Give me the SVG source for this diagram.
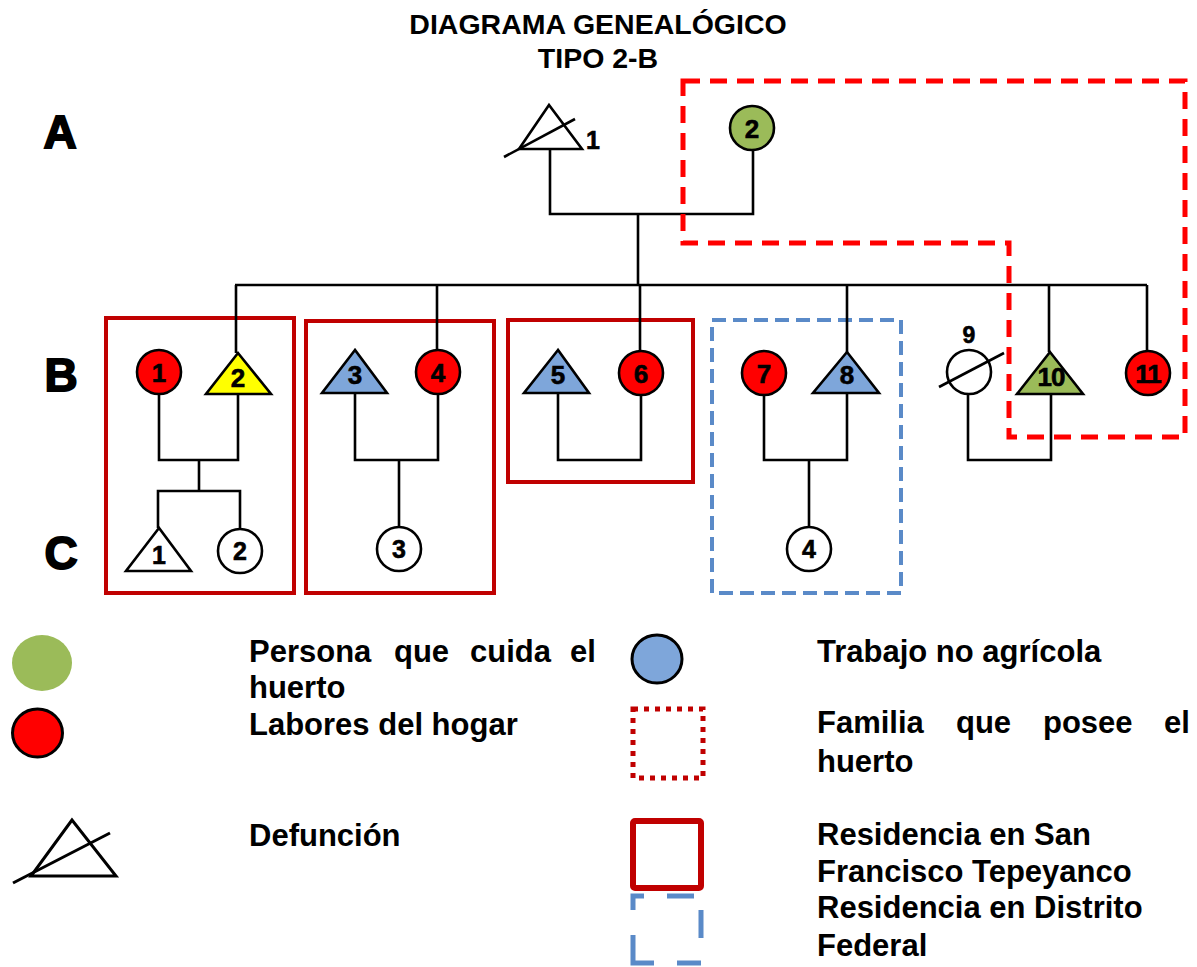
<svg xmlns="http://www.w3.org/2000/svg" width="1197" height="967" viewBox="0 0 1197 967">
<defs>
<style>
text{font-family:"Liberation Sans",Arial,sans-serif;font-weight:bold;fill:#000}
.title{font-size:28.5px;text-anchor:middle}
.gen{font-size:46px;text-anchor:middle;stroke:#000;stroke-width:1.8}
.lbl{font-size:26px;text-anchor:middle;stroke:#000;stroke-width:0.6}
.lbs{font-size:25px;text-anchor:middle;stroke:#000;stroke-width:0.6}
.leg{font-size:31px}
.ln{fill:none;stroke:#000;stroke-width:2.6;stroke-linejoin:miter}
.nd{stroke:#000;stroke-width:2.6}
.red{fill:#FF0000}.yel{fill:#FFFF00}.blu{fill:#7EA6DA}.grn{fill:#9BBB59}.wht{fill:#fff}
.res{fill:none;stroke:#C00000;stroke-width:4}
.own{fill:none;stroke:#FF0000;stroke-width:5;stroke-dasharray:17 10}
.df{fill:none;stroke:#5A8AC8;stroke-width:4;stroke-dasharray:14 7}
</style>
</defs>
<rect width="1197" height="967" fill="#fff"/>
<g id="title">
<text class="title" x="598" y="34">DIAGRAMA GENEALÓGICO</text>
<text class="title" x="598" y="68">TIPO 2-B</text>
</g>
<g id="generations">
<text class="gen" x="60" y="148">A</text>
<text class="gen" x="61" y="391">B</text>
<text class="gen" x="61" y="569">C</text>
</g>
<g id="frames">
<rect class="res" x="106" y="318" width="188" height="275"/>
<rect class="res" x="306" y="321" width="188" height="272"/>
<rect class="res" x="508" y="320" width="185" height="162"/>
<rect class="df" x="712" y="320" width="189" height="273"/>
</g>
<g id="connectors">
<path class="ln" d="M550,149 V214 H753 V150"/>
<path class="ln" d="M638,214 V285"/>
<path class="ln" d="M235,285 H1147"/>
<path class="ln" d="M236,285 V353 M437,285 V350 M640,285 V351 M847,285 V352 M1049,285 V352 M1147,285 V351"/>
<path class="ln" d="M159,394 V460 H238 V394 M199,460 V491 M158,528 V491 H240 V529"/>
<path class="ln" d="M355,393 V460 H438 V394 M399,460 V527"/>
<path class="ln" d="M558,393 V460 H641 V395"/>
<path class="ln" d="M764,395 V460 H847 V393 M809,460 V527"/>
<path class="ln" d="M968,394 V460 H1051 V394"/>
</g>
<g id="owner-frame">
<path class="own" d="M683,81 H1185 V437 H1009 V243 H683 Z"/>
</g>
<g id="A1">
<polygon class="nd wht" points="549,105 519,149 582,149"/>
<line class="ln" x1="504" y1="157" x2="575" y2="119"/>
<text class="lbs" x="593" y="149">1</text>
</g>
<g id="A2">
<circle class="nd grn" cx="752" cy="128" r="22"/>
<text class="lbl" x="752" y="138">2</text>
</g>
<g id="B1"><circle class="nd red" cx="159" cy="372" r="22"/><text class="lbl" x="159" y="382">1</text></g>
<g id="B2"><polygon class="nd yel" points="238,353 206,394 271,394"/><text class="lbl" x="238" y="387">2</text></g>
<g id="B3"><polygon class="nd blu" points="355,350 322,393 387,393"/><text class="lbl" x="355" y="384">3</text></g>
<g id="B4"><circle class="nd red" cx="438" cy="372" r="22"/><text class="lbl" x="438" y="382">4</text></g>
<g id="B5"><polygon class="nd blu" points="558,350 524,393 589,393"/><text class="lbl" x="558" y="384">5</text></g>
<g id="B6"><circle class="nd red" cx="641" cy="373" r="22"/><text class="lbl" x="641" y="383">6</text></g>
<g id="B7"><circle class="nd red" cx="764" cy="373" r="22"/><text class="lbl" x="764" y="383">7</text></g>
<g id="B8"><polygon class="nd blu" points="847,352 813,393 879,393"/><text class="lbl" x="847" y="384">8</text></g>
<g id="B9"><circle class="nd wht" cx="969" cy="372" r="22"/><line class="ln" x1="939" y1="387" x2="1004" y2="353"/><text class="lbs" x="969" y="343" style="font-size:23px">9</text></g>
<g id="B10"><polygon class="nd grn" points="1050,352 1017,394 1083,394"/><text class="lbl" x="1051" y="386" letter-spacing="-1">10</text></g>
<g id="B11"><circle class="nd red" cx="1148" cy="373" r="22"/><text class="lbl" x="1148" y="383" letter-spacing="-1">11</text></g>
<g id="C1"><polygon class="nd wht" points="159,528 126,571 191,571"/><text class="lbs" x="159" y="564">1</text></g>
<g id="C2"><circle class="nd wht" cx="240" cy="551" r="22"/><text class="lbs" x="240" y="560">2</text></g>
<g id="C3"><circle class="nd wht" cx="399" cy="549" r="22"/><text class="lbs" x="399" y="558">3</text></g>
<g id="C4"><circle class="nd wht" cx="809" cy="549" r="22"/><text class="lbs" x="809" y="558">4</text></g>
<g id="legend">
<ellipse cx="42" cy="663" rx="30" ry="28" class="grn"/>
<ellipse cx="37.5" cy="733" rx="25" ry="24" class="red" stroke="#000" stroke-width="3"/>
<polygon points="72,820 31,876 116,876" fill="none" stroke="#000" stroke-width="3"/>
<line x1="13" y1="883" x2="110" y2="833" stroke="#000" stroke-width="3"/>
<ellipse cx="657" cy="659" rx="25" ry="24" class="blu" stroke="#000" stroke-width="3"/>
<rect x="633" y="709" width="70" height="69" fill="none" stroke="#C00000" stroke-width="5" stroke-dasharray="5 6"/>
<rect x="633" y="821" width="68" height="67" rx="2" fill="none" stroke="#C00000" stroke-width="6"/>
<path d="M633,910 V896 H644 M667,896 H694 M701,910 V938 M633,935 V963 H654 M677,963 H701" fill="none" stroke="#5A8AC8" stroke-width="5"/>
<text class="leg" y="662"><tspan x="249">Persona</tspan><tspan x="394">que</tspan><tspan x="470">cuida</tspan><tspan x="570">el</tspan></text>
<text class="leg" x="249" y="698">huerto</text>
<text class="leg" x="249" y="735">Labores del hogar</text>
<text class="leg" x="249" y="846">Defunción</text>
<text class="leg" x="817" y="662">Trabajo no agrícola</text>
<text class="leg" y="733"><tspan x="817">Familia</tspan><tspan x="956">que</tspan><tspan x="1043">posee</tspan><tspan x="1164">el</tspan></text>
<text class="leg" x="817" y="772">huerto</text>
<text class="leg" x="817" y="845">Residencia en San</text>
<text class="leg" x="817" y="882">Francisco Tepeyanco</text>
<text class="leg" x="817" y="918">Residencia en Distrito</text>
<text class="leg" x="817" y="956">Federal</text>
</g>
</svg>
